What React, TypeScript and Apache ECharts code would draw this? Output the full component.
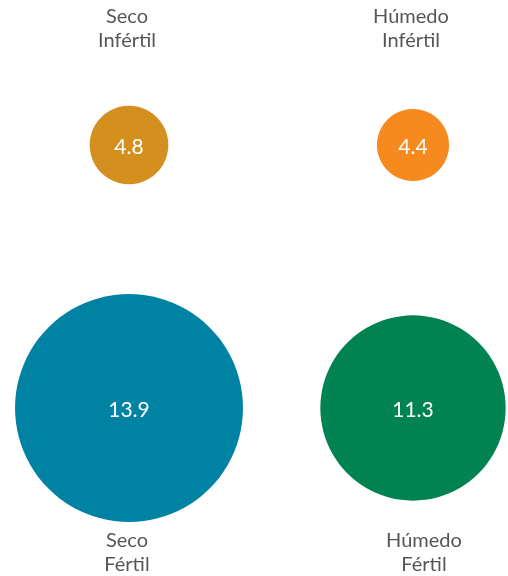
import React, { useEffect, useRef } from "react";
import * as echarts from "echarts";

const moisture = ["Seco", "Húmedo"];
const fertility = ["Fértil", "Infértil"];
const valuesFertil = [13.9, 11.3];
const valuesInfertil = [4.8, 4.4];
const colorsFertil = ["#0082A3", "#008350"];
const colorsInfertil = ["#D4901F", "#F68A1F"];

export default function App() {
  const ref = useRef<HTMLDivElement>(null);
  useEffect(() => {
    if (!ref.current) return;
    const chart = echarts.init(ref.current, null, { renderer: "svg" });
    const font = "Lato, 'Noto Sans', sans-serif";
    const circles: any[] = [];
    const names: any[] = [];
    moisture.forEach((m, i) => {
      circles.push({
        value: [i, 1, valuesInfertil[i]],
        itemStyle: { color: colorsInfertil[i] },
      });
      circles.push({
        value: [i, 0, valuesFertil[i]],
        itemStyle: { color: colorsFertil[i] },
      });
      names.push({
        value: [i, 1],
        name: m + "\n" + fertility[1],
        label: { offset: [-2, -118] },
      });
      names.push({
        value: [i, 0],
        name: m + "\n" + fertility[0],
        label: { offset: [i === 1 ? 11 : -2, 143] },
      });
    });
    chart.setOption({
      animation: false,
      grid: { left: 129, right: 95, top: 145, bottom: 168 },
      xAxis: {
        type: "category",
        data: moisture,
        boundaryGap: false,
        show: false,
      },
      yAxis: {
        type: "category",
        data: fertility,
        boundaryGap: false,
        show: false,
      },
      series: [
        {
          type: "scatter",
          data: circles,
          symbolSize: (d: number[]) => d[2] * 16.4,
          itemStyle: { opacity: 1 },
          label: {
            show: true,
            position: "inside",
            formatter: (p: any) => p.value[2].toFixed(1),
            color: "#ffffff",
            fontSize: 21,
            fontFamily: font,
          },
          emphasis: { disabled: true },
          z: 2,
        },
        {
          type: "scatter",
          data: names,
          symbolSize: 0,
          label: {
            show: true,
            position: "inside",
            formatter: (p: any) => p.name,
            color: "#2a2a2a",
            fontSize: 20,
            lineHeight: 24,
            fontFamily: font,
            align: "center",
          },
          emphasis: { disabled: true },
          z: 3,
        },
      ],
    });
    return () => chart.dispose();
  }, []);
  return (
    <div
      ref={ref}
      style={{ position: "fixed", left: 0, top: 0, width: 508, height: 576 }}
    />
  );
}
